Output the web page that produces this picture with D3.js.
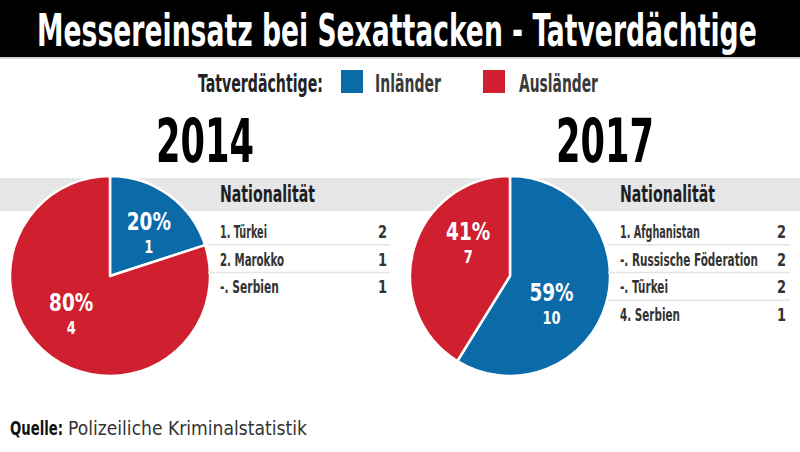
<!DOCTYPE html>
<html><head><meta charset="utf-8">
<script src="https://cdn.jsdelivr.net/npm/d3@7/dist/d3.min.js"></script>
<style>
html,body{margin:0;padding:0;background:#fff;}
svg{display:block;}
</style></head>
<body>
<script>
// ---- data ----
const title = "Messereinsatz bei Sexattacken - Tatverdächtige";
const legendTitle = "Tatverdächtige:";
const categories = ["Inländer", "Ausländer"];
const years = ["2014", "2017"];
const values2014 = [1, 4];
const values2017 = [10, 7];
const percent2014 = ["20%", "80%"];
const percent2017 = ["59%", "41%"];
const tableHeader = "Nationalität";
const nations2014 = ["1. Türkei", "2. Marokko", "-. Serbien"];
const counts2014 = [2, 1, 1];
const nations2017 = ["1. Afghanistan", "-. Russische Föderation", "-. Türkei", "4. Serbien"];
const counts2017 = [2, 2, 2, 1];
const sourceLabel = "Quelle:";
const sourceText = "Polizeiliche Kriminalstatistik";

// ---- layout / style ----
const W = 800, H = 452;
const colors = ["#0b6aa8", "#d0202f"];
const condensed = "'Liberation Sans Narrow','DejaVu Sans Condensed','Liberation Sans',sans-serif";
const panels = [
  {year: years[0], values: values2014, pct: percent2014, nations: nations2014, counts: counts2014,
   cx: 110, tableX: 220, tableR: 387, lineX0: 208, lineX1: 390,
   rowW: [47, 64, 59],
   labelNudge: [{a: 6, r: 58}, {a: 10, r: 54}]},
  {year: years[1], values: values2017, pct: percent2017, nations: nations2017, counts: counts2017,
   cx: 510, tableX: 620, tableR: 786, lineX0: 608, lineX1: 790,
   rowW: [80, 138, 48, 60],
   labelNudge: [{a: 18, r: 50}, {a: 22, r: 53}]}
];
const cy = 276, R = 100;

const svg = d3.select("body").append("svg").attr("width", W).attr("height", H);

// place text at (x,y) and scale it horizontally to a target width (or by a factor)
function put(parent, x, y, str, opts) {
  const t = parent.append("text").attr("x", 0).attr("y", 0)
    .attr("font-family", condensed)
    .attr("font-weight", opts.weight || "bold")
    .attr("font-size", opts.size)
    .attr("fill", opts.fill || "#333")
    .attr("text-anchor", opts.anchor || "start")
    .text(str);
  const n = t.node().getComputedTextLength();
  const sx = opts.width ? opts.width / n : (opts.factor || 1);
  t.attr("transform", `translate(${x},${y}) scale(${sx},1)`);
  return t;
}

// title bar
svg.append("rect").attr("x", 0).attr("y", 0).attr("width", W).attr("height", 57).attr("fill", "#000");
svg.append("rect").attr("x", 0).attr("y", 57).attr("width", W).attr("height", 2).attr("fill", "#d4d4d4");
put(svg, 37, 46, title, {size: 44, fill: "#fff", width: 720});

// legend
put(svg, 198, 92, legendTitle, {size: 25, fill: "#222", width: 125});
const legX = [341, 483], legTX = [375, 519], legTW = [66, 79];
categories.forEach((c, i) => {
  svg.append("rect").attr("x", legX[i]).attr("y", 70).attr("width", 22).attr("height", 23).attr("fill", colors[i]);
  put(svg, legTX[i], 92, c, {size: 25, fill: "#3a3a3a", width: legTW[i]});
});

// gray band
svg.append("rect").attr("x", 0).attr("y", 178).attr("width", W).attr("height", 33).attr("fill", "#e6e6e6");

const pie = d3.pie().sort(null).value(d => d);
const arc = d3.arc().innerRadius(0).outerRadius(R);

panels.forEach(p => {
  // year
  put(svg, p.cx + 95, 162, p.year, {size: 60, fill: "#000", anchor: "middle", width: 98});

  const g = svg.append("g").attr("transform", `translate(${p.cx},${cy})`);
  const arcs = pie(p.values);
  g.selectAll("path").data(arcs).join("path")
    .attr("d", arc).attr("fill", (d, i) => colors[i])
    .attr("stroke", "#fff").attr("stroke-width", 2.5).attr("stroke-linejoin", "round");

  arcs.forEach((d, i) => {
    const a = (d.startAngle + d.endAngle) / 2 + p.labelNudge[i].a * Math.PI / 180;
    const r = p.labelNudge[i].r;
    const x = r * Math.sin(a), y = -r * Math.cos(a);
    put(g, x, y - 3, p.pct[i], {size: 25, fill: "#fff", anchor: "middle", factor: 0.82});
    put(g, x, y + 20, String(d.data), {size: 17, fill: "#fff", anchor: "middle", factor: 0.85});
  });

  // table
  put(svg, p.tableX, 202, tableHeader, {size: 23, fill: "#1e1e1e", width: 95});
  const rowY = d3.scalePoint().domain(d3.range(4)).range([238, 321]);
  p.nations.forEach((n, i) => {
    put(svg, p.tableX, rowY(i), n, {size: 17, fill: "#333", width: p.rowW[i]});
    put(svg, p.tableR, rowY(i), String(p.counts[i]), {size: 17, fill: "#333", anchor: "end", factor: 0.85});
    if (i < p.nations.length - 1) {
      const ly = (rowY(i) + rowY(i + 1)) / 2 - 7;
      svg.append("line").attr("x1", p.lineX0).attr("x2", p.lineX1).attr("y1", ly).attr("y2", ly)
        .attr("stroke", "#e4e4e4").attr("stroke-width", 1.5);
    }
  });
});

// source
put(svg, 10, 435, sourceLabel, {size: 20, fill: "#111", width: 53});
put(svg, 68, 435, sourceText, {size: 20, fill: "#333", weight: "normal", width: 239});
</script>
</body></html>
